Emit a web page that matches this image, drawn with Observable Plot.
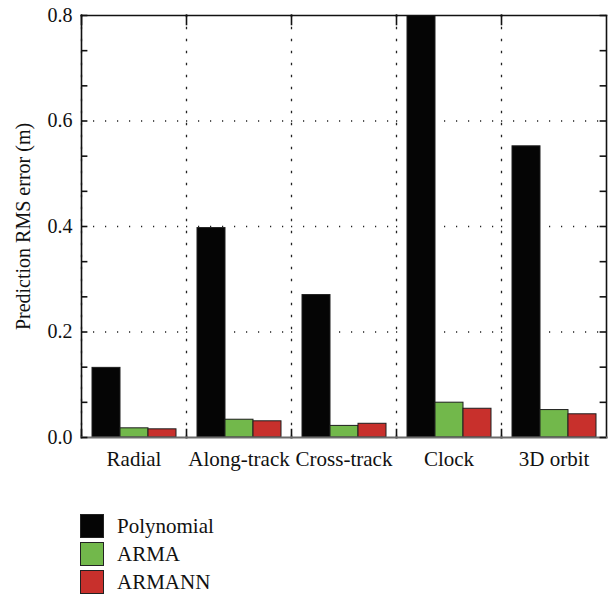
<!DOCTYPE html>
<html>
<head>
<meta charset="utf-8">
<script src="https://cdn.jsdelivr.net/npm/d3@7"></script>
<script src="https://cdn.jsdelivr.net/npm/@observablehq/plot@0.6"></script>
<style>
  body { margin: 0; background: #fff; font-family: "Liberation Serif", "DejaVu Serif", serif; }
  #legend { padding: 32px 0 0 80px; }
  .row { display: flex; align-items: center; height: 28px; font-size: 21px; color: #111; }
  .sw { width: 22px; height: 22px; border: 1px solid #222; margin-right: 13px; }
</style>
</head>
<body>
<div id="chart"></div>
<div id="legend"></div>
<script>
// Prediction RMS error (m) per component and method
const categories = ["Radial", "Along-track", "Cross-track", "Clock", "3D orbit"];
const series = ["Polynomial", "ARMA", "ARMANN"];
const polynomial = [0.132, 0.397, 0.270, 0.85, 0.552];
const arma = [0.0174, 0.0337, 0.022, 0.066, 0.052];
const armann = [0.0155, 0.0307, 0.026, 0.0545, 0.044];
const colors = ["#050505", "#72b84b", "#c8302c"];
const yTicks = [0, 0.2, 0.4, 0.6, 0.8];
const yGrid = [0.2, 0.4, 0.6];
// minor ticks: three per labelled interval
const yMinor = d3.range(13).map(i => i * 0.2 / 3);

const valuesBySeries = [polynomial, arma, armann];
const rows = [];
categories.forEach((c, i) => {
  series.forEach((s, j) => rows.push({category: c, series: s, value: valuesBySeries[j][i]}));
});

const width = 609, height = 480;
const margin = {top: 15, right: 2, bottom: 43, left: 79};
const innerHeight = height - margin.top - margin.bottom;
const facetWidth = (width - margin.left - margin.right) / categories.length;
const font = "'Liberation Serif', 'DejaVu Serif', serif";
const dotted = "1.2,10.8";
const topTick = 9, bottomTick = 8, sideTick = 7;

const chart = Plot.plot({
  width, height,
  marginLeft: margin.left,
  marginRight: margin.right,
  marginTop: margin.top,
  marginBottom: margin.bottom,
  style: {fontFamily: font, fontSize: "20px", color: "#111", background: "#fff"},
  fx: {domain: categories, padding: 0},
  x: {domain: series, paddingInner: 0, paddingOuter: 0.36, axis: null},
  y: {domain: [0, 0.8]},
  color: {domain: series, range: colors},
  marks: [
    Plot.gridY(yGrid, {stroke: "#222", strokeOpacity: 1, strokeWidth: 1.3, strokeDasharray: dotted}),
    // dotted group separators
    Plot.frame({anchor: "left", stroke: "#222", strokeWidth: 1.3, strokeDasharray: dotted}),
    Plot.barY(rows, {fx: "category", x: "series", y: "value", fill: "series", stroke: "#1e1e1e", strokeWidth: 1, clip: true}),
    // short solid ticks where the separators meet the top and bottom of the frame
    Plot.frame({anchor: "left", stroke: "#111", strokeWidth: 1.6, strokeDasharray: `${topTick},${innerHeight}`}),
    Plot.frame({anchor: "left", stroke: "#111", strokeWidth: 1.6, strokeDasharray: `0,${innerHeight - bottomTick},${bottomTick},${innerHeight}`}),
    Plot.frame({anchor: "top", stroke: "#111", strokeWidth: 1.6}),
    Plot.frame({anchor: "left", facetAnchor: "left", stroke: "#111", strokeWidth: 1.6}),
    Plot.frame({anchor: "right", facetAnchor: "right", stroke: "#111", strokeWidth: 1.6}),
    Plot.frame({anchor: "bottom", stroke: "#6b6b6b", strokeWidth: 2.2}),
    // inward y ticks on both sides of the frame
    Plot.tickY(yMinor, {y: d => d, facetAnchor: "left", insetRight: facetWidth - sideTick, stroke: "#111", strokeWidth: 1.6}),
    Plot.tickY(yMinor, {y: d => d, facetAnchor: "right", insetLeft: facetWidth - sideTick, stroke: "#111", strokeWidth: 1.6}),
    Plot.axisY(yTicks, {anchor: "left", tickSize: 0, tickPadding: 9, tickFormat: ".1f", fontSize: 20, fontFamily: font,
      label: "Prediction RMS error (m)", labelAnchor: "center", labelArrow: "none", labelOffset: 66}),
    Plot.axisFx({anchor: "bottom", tickSize: 0, tickPadding: 14, fontSize: 21, fontFamily: font, label: null})
  ]
});
document.getElementById("chart").append(chart);

const legend = document.getElementById("legend");
series.forEach((s, j) => {
  const row = document.createElement("div");
  row.className = "row";
  const sw = document.createElement("div");
  sw.className = "sw";
  sw.style.background = colors[j];
  const label = document.createElement("span");
  label.textContent = s;
  row.append(sw, label);
  legend.append(row);
});
</script>
</body>
</html>
